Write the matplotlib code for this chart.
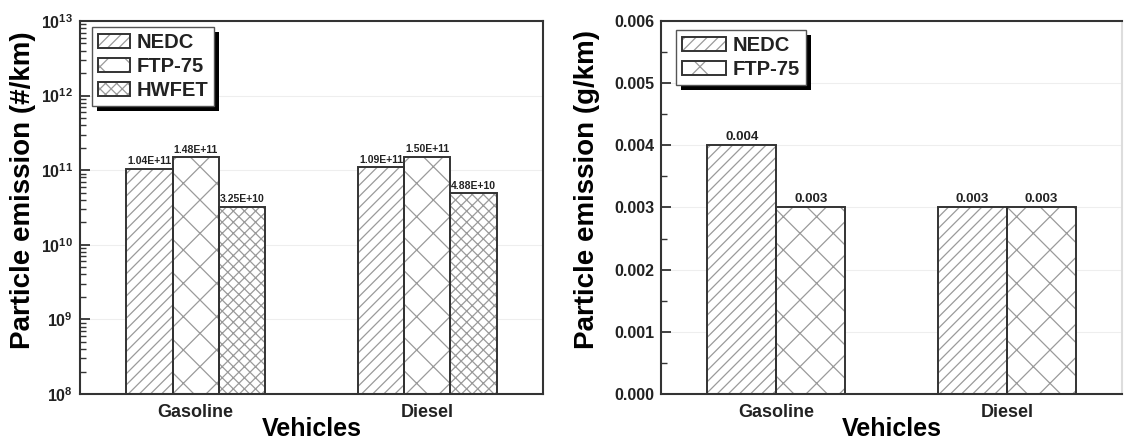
import numpy as np
import matplotlib
matplotlib.use("Agg")
import matplotlib.pyplot as plt
import matplotlib.patheffects as pe
from matplotlib.legend_handler import HandlerTuple
from matplotlib.ticker import LogLocator, NullFormatter, MultipleLocator, FormatStrFormatter

plt.rcParams["font.family"] = ["Liberation Sans", "DejaVu Sans"]
plt.rcParams["font.weight"] = "bold"
plt.rcParams["axes.labelweight"] = "bold"
plt.rcParams["mathtext.fontset"] = "custom"
plt.rcParams["mathtext.rm"] = "Liberation Sans:bold"
plt.rcParams["mathtext.bf"] = "Liberation Sans:bold"
plt.rcParams["mathtext.it"] = "Liberation Sans:bold"
plt.rcParams["hatch.linewidth"] = 0.9
plt.rcParams["text.color"] = "#222222"

vehicles = ["Gasoline", "Diesel"]

# particle number (#/km)
pn_cycles = ["NEDC", "FTP-75", "HWFET"]
pn_nedc = [1.04e11, 1.09e11]
pn_ftp75 = [1.48e11, 1.50e11]
pn_hwfet = [3.25e10, 4.88e10]

# particle mass (g/km)
pm_cycles = ["NEDC", "FTP-75"]
pm_nedc = [0.004, 0.003]
pm_ftp75 = [0.003, 0.003]

hatches = {"NEDC": "///", "FTP-75": "x", "HWFET": "xxx"}
INK = "#333333"
HATCH = "#9a9a9a"

fig = plt.figure(figsize=(11.25, 4.41), dpi=100)
ax1 = fig.add_axes([0.0711, 0.1066, 0.4116, 0.8458])
ax2 = fig.add_axes([0.5876, 0.1066, 0.4098, 0.8458])
x = np.arange(len(vehicles))


def style_axes(ax):
    for s in ax.spines.values():
        s.set_linewidth(1.5)
        s.set_color(INK)
    ax.set_xlim(-0.5, 1.5)
    ax.set_xticks(x)
    ax.set_xticklabels(vehicles)
    ax.tick_params(axis="x", length=0, labelsize=13, pad=7, colors="#222")
    ax.tick_params(axis="y", which="major", direction="in", length=7, width=1.3,
                   labelsize=11.5, pad=5, colors=INK, labelcolor="#222")
    ax.tick_params(axis="y", which="minor", direction="in", length=4, width=1,
                   colors=INK)
    ax.yaxis.grid(True, which="major", color="#eeeeee", lw=0.8)
    ax.set_axisbelow(True)
    ax.set_xlabel("Vehicles", fontsize=18, labelpad=-3)


def draw_bars(ax, series, names, width, fmt, fs):
    offs = (np.arange(len(series)) - (len(series) - 1) / 2) * width
    handles = []
    for vals, name, o in zip(series, names, offs):
        # grey hatch fill, then a dark outline on top
        fill = ax.bar(x + o, vals, width, facecolor="white", edgecolor=HATCH,
                      hatch=hatches[name], linewidth=0, zorder=2)
        edge = ax.bar(x + o, vals, width, fill=False, edgecolor=INK,
                      linewidth=1.4, zorder=3)
        handles.append((fill, edge))
        for xi, v in zip(x + o, vals):
            ax.annotate(fmt(v), (xi, v), xytext=(0, 2), textcoords="offset points",
                        ha="center", va="bottom", fontsize=fs)
    return handles


def add_legend(ax, handles, names, anchor, hl):
    leg = ax.legend(handles=handles, labels=names, loc="upper left",
                    bbox_to_anchor=anchor, borderaxespad=0, fancybox=False,
                    framealpha=1, fontsize=14.5, handlelength=hl, handleheight=0.7,
                    handletextpad=0.3, labelspacing=0.25, borderpad=0.3,
                    handler_map={tuple: HandlerTuple(ndivide=1, pad=0)})
    fr = leg.get_frame()
    fr.set_edgecolor("#555555")
    fr.set_linewidth(1)
    fr.set_path_effects([pe.withSimplePatchShadow(offset=(3.5, -3.5),
                                                  shadow_rgbFace="black", alpha=1)])
    return leg


# ---- left: particle number, log scale ----
style_axes(ax1)
ax1.set_yscale("log")
ax1.set_ylim(1e8, 1e13)
ax1.yaxis.set_minor_locator(LogLocator(base=10, subs=np.arange(2, 10), numticks=20))
ax1.yaxis.set_minor_formatter(NullFormatter())
h1 = draw_bars(ax1, [pn_nedc, pn_ftp75, pn_hwfet], pn_cycles, 0.2,
               lambda v: f"{v:.2E}", 7.5)
ax1.set_ylabel("Particle emission (#/km)", fontsize=20)
ax1.yaxis.set_label_coords(-0.095, 0.547)
add_legend(ax1, h1, pn_cycles, (0.026, 0.984), 1.6)

# ---- right: particle mass, linear scale ----
style_axes(ax2)
ax2.set_ylim(0, 0.006)
ax2.yaxis.set_major_locator(MultipleLocator(0.001))
ax2.yaxis.set_minor_locator(MultipleLocator(0.0005))
ax2.yaxis.set_major_formatter(FormatStrFormatter("%.3f"))
ax2.spines["right"].set_color("#dddddd")
h2 = draw_bars(ax2, [pm_nedc, pm_ftp75], pm_cycles, 0.3,
               lambda v: f"{v:.3f}", 9.5)
ax2.set_ylabel("Particle emission (g/km)", fontsize=20)
ax2.yaxis.set_label_coords(-0.132, 0.547)
add_legend(ax2, h2, pm_cycles, (0.0325, 0.976), 2.2)

fig.savefig("out.png", dpi=100, facecolor="white")
